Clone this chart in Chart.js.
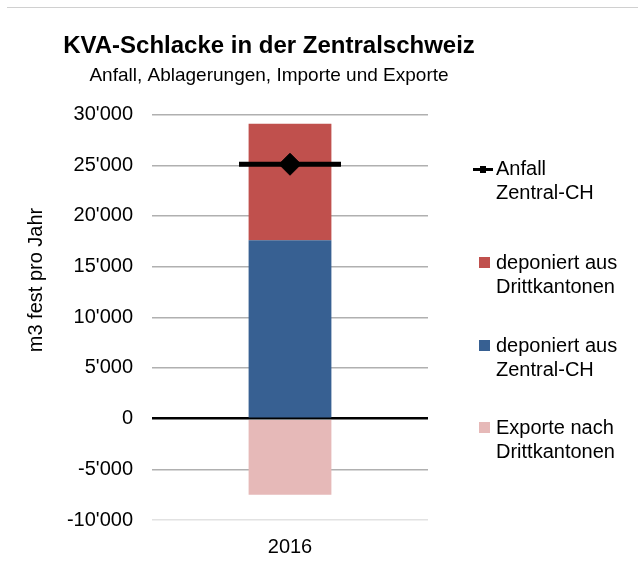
<!DOCTYPE html>
<html>
<head>
<meta charset="utf-8">
<title>KVA-Schlacke in der Zentralschweiz</title>
<script src="https://cdn.jsdelivr.net/npm/chart.js@4.4.1/dist/chart.umd.min.js"></script>
<style>
  html, body { margin: 0; padding: 0; background: #fff; }
  body { width: 638px; height: 586px; position: relative; overflow: hidden; font-family: "Liberation Sans", Arial, sans-serif; }
  #chartBox { position: absolute; left: 0; top: 0; width: 638px; height: 586px; }
  .topline { position: absolute; left: 7px; right: 0; top: 7px; height: 1px; background: #d0d0d0; }
  .legend-item { position: absolute; left: 496px; font-size: 20px; line-height: 24px; color: #000; white-space: nowrap; }
  .legend-item .swatch { position: absolute; left: -17px; top: 7px; width: 11px; height: 11px; }
  .legend-item .dash { position: absolute; left: -23px; top: 12px; width: 20px; height: 3px; background: #000; }
  .legend-item .dash::after { content: ''; position: absolute; left: 7px; top: -2px; width: 6px; height: 7px; background: #000; }
</style>
</head>
<body>
<div class="topline"></div>
<div id="chartBox"><canvas id="kvaChart" width="638" height="586"></canvas></div>
<div id="legend"></div>

<script>
  // values (m3 fest pro Jahr)
  const categories = ['2016'];
  const anfallZentral = [25100];
  const depZentral = [17600];
  const depDritt = [11500];
  const exporte = [-7500];

  const yMin = -10000;
  const yMax = 30000;
  const yStep = 5000;

  const chartTitle = 'KVA-Schlacke in der Zentralschweiz';
  const chartSubtitle = 'Anfall, Ablagerungen, Importe und Exporte';
  const yTitle = 'm3 fest pro Jahr';

  const colors = {
    anfall: '#000000',
    dritt: '#c0504d',
    zentral: '#376092',
    exporte: '#e6b9b8'
  };

  const legendItems = [
    { lines: ['Anfall', 'Zentral-CH'], kind: 'dash', top: 156 },
    { lines: ['deponiert aus', 'Drittkantonen'], color: colors.dritt, top: 250 },
    { lines: ['deponiert aus', 'Zentral-CH'], color: colors.zentral, top: 333 },
    { lines: ['Exporte nach', 'Drittkantonen'], color: colors.exporte, top: 415 }
  ];

  const fmt = (v) => {
    const s = String(Math.abs(v)).replace(/\B(?=(\d{3})+(?!\d))/g, "'");
    return v < 0 ? '-' + s : s;
  };

  const buildLegend = () => {
    const box = document.getElementById('legend');
    legendItems.forEach((item) => {
      const el = document.createElement('div');
      el.className = 'legend-item';
      el.style.top = item.top + 'px';
      const mark = document.createElement('span');
      if (item.kind === 'dash') {
        mark.className = 'dash';
      } else {
        mark.className = 'swatch';
        mark.style.background = item.color;
      }
      el.appendChild(mark);
      item.lines.forEach((line, i) => {
        if (i) el.appendChild(document.createElement('br'));
        el.appendChild(document.createTextNode(line));
      });
      box.appendChild(el);
    });
  };

  const yTitlePlugin = {
    id: 'yTitle',
    afterDraw(chart) {
      const c = chart.ctx;
      c.save();
      c.translate(36, 280);
      c.rotate(-Math.PI / 2);
      c.font = '20px "Liberation Sans", Arial, sans-serif';
      c.fillStyle = '#000';
      c.textAlign = 'center';
      c.textBaseline = 'middle';
      c.fillText(yTitle, 0, 0);
      c.restore();
    }
  };

  Chart.defaults.font.family = '"Liberation Sans", Arial, sans-serif';
  Chart.defaults.color = '#000';

  buildLegend();

  new Chart(document.getElementById('kvaChart'), {
    type: 'bar',
    data: {
      labels: categories,
      datasets: [
        {
          type: 'line',
          label: 'Anfall Zentral-CH',
          data: anfallZentral,
          stack: 'anfall',
          order: 0,
          showLine: false,
          pointStyle: 'line',
          pointRadius: 51,
          pointHoverRadius: 51,
          borderColor: colors.anfall,
          pointBorderWidth: 5,
          pointHoverBorderWidth: 5
        },
        {
          type: 'line',
          label: 'Anfall Zentral-CH (Punkt)',
          data: anfallZentral,
          stack: 'anfallPunkt',
          order: -1,
          showLine: false,
          pointStyle: 'rectRot',
          pointRadius: 11,
          pointHoverRadius: 11,
          backgroundColor: colors.anfall,
          borderColor: colors.anfall,
          pointBorderWidth: 1
        },
        {
          label: 'deponiert aus Zentral-CH',
          data: depZentral,
          backgroundColor: colors.zentral,
          stack: 'bars',
          order: 1
        },
        {
          label: 'deponiert aus Drittkantonen',
          data: depDritt,
          backgroundColor: colors.dritt,
          stack: 'bars',
          order: 1
        },
        {
          label: 'Exporte nach Drittkantonen',
          data: exporte,
          backgroundColor: colors.exporte,
          stack: 'bars',
          order: 1
        }
      ]
    },
    options: {
      responsive: false,
      animation: false,
      events: [],
      barPercentage: 0.3,
      categoryPercentage: 1,
      layout: { padding: { left: 0, right: 100, top: 0, bottom: 12 } },
      plugins: {
        legend: { display: false },
        tooltip: { enabled: false },
        title: {
          display: true,
          text: chartTitle,
          color: '#000',
          font: { size: 24, weight: 'bold' },
          padding: { top: 32, bottom: 4 }
        },
        subtitle: {
          display: true,
          text: chartSubtitle,
          color: '#000',
          font: { size: 19 },
          padding: { top: 0, bottom: 27 }
        }
      },
      scales: {
        x: {
          stacked: true,
          grid: { display: false, drawTicks: false },
          border: { display: false },
          ticks: { font: { size: 20 }, color: '#000', padding: 15 }
        },
        y: {
          stacked: true,
          min: yMin,
          max: yMax,
          border: { display: false },
          grid: {
            drawTicks: false,
            color: (ctx) => {
              const v = ctx.tick && ctx.tick.value;
              if (v === 0) return '#000';
              if (v === yMin) return '#e2e2e2';
              return '#b0b0b0';
            },
            lineWidth: (ctx) => (ctx.tick && ctx.tick.value === 0 ? 2.5 : 1.5)
          },
          ticks: {
            stepSize: yStep,
            padding: 19,
            font: { size: 20 },
            color: '#000',
            callback: (value) => fmt(value)
          },
          afterFit: (scale) => { scale.width = 152; }
        },
        yRight: {
          position: 'right',
          display: true,
          grid: { display: false, drawTicks: false },
          border: { display: false },
          ticks: { display: false },
          afterFit: (scale) => { scale.width = 110; }
        }
      }
    },
    plugins: [yTitlePlugin]
  });
</script>
</body>
</html>
